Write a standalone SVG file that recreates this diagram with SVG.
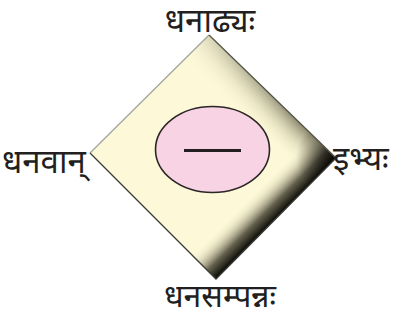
<svg xmlns="http://www.w3.org/2000/svg" width="393" height="321" viewBox="0 0 393 321">
<style>
.lbl{font-family:"Noto Sans Devanagari","Noto Serif Devanagari","Lohit Devanagari","Noto Sans",sans-serif;font-size:33px;fill:#231f20}
</style>
<defs>
<linearGradient id="gTR" gradientUnits="userSpaceOnUse" x1="272.5" y1="96.5" x2="248" y2="122">
<stop offset="0" stop-color="#77735c" stop-opacity="0.85"/>
<stop offset="0.5" stop-color="#b8b494" stop-opacity="0.35"/>
<stop offset="1" stop-color="#fcf8d8" stop-opacity="0"/>
</linearGradient>
<linearGradient id="gBR" gradientUnits="userSpaceOnUse" x1="276" y1="218.5" x2="252" y2="194.5">
<stop offset="0" stop-color="#0b0b06" stop-opacity="1"/>
<stop offset="0.35" stop-color="#3e3b2c" stop-opacity="0.8"/>
<stop offset="0.7" stop-color="#a9a587" stop-opacity="0.35"/>
<stop offset="1" stop-color="#fcf8d8" stop-opacity="0"/>
</linearGradient>
<linearGradient id="gFade" gradientUnits="userSpaceOnUse" x1="209" y1="35" x2="300" y2="122">
<stop offset="0" stop-color="#fcf8d8" stop-opacity="0.7"/>
<stop offset="1" stop-color="#fcf8d8" stop-opacity="0"/>
</linearGradient>
<radialGradient id="gCorner" gradientUnits="userSpaceOnUse" cx="336" cy="158" r="40">
<stop offset="0" stop-color="#000" stop-opacity="0.6"/>
<stop offset="1" stop-color="#000" stop-opacity="0"/>
</radialGradient>
</defs>
<g id="diamond">
<polygon points="209,35 336,158 216,279 90,153" fill="#fcf8d8"/>
<polygon points="209,35 336,158 216,279 90,153" fill="url(#gTR)"/>
<polygon points="209,35 336,158 216,279 90,153" fill="url(#gFade)"/>
<polygon points="209,35 336,158 216,279 90,153" fill="url(#gBR)"/>
<polygon points="209,35 336,158 216,279 90,153" fill="url(#gCorner)"/>
<polyline points="90,153 209,35" fill="none" stroke="#a5a5a0" stroke-width="1.3"/>
<polyline points="209,35 336,158" fill="none" stroke="#555548" stroke-width="1.3"/>
<polyline points="336,158 216,279 90,153" fill="none" stroke="#3c3c36" stroke-width="1.3"/>
</g>
<g id="center">
<ellipse cx="212.5" cy="149.5" rx="57" ry="43" fill="#f8d3e4" stroke="#2a2626" stroke-width="1.6"/>
<line x1="184" y1="150.5" x2="241" y2="150.5" stroke="#231f20" stroke-width="3"/>
</g>
<g id="top"><text class="lbl" x="210" y="32" text-anchor="middle">धनाढ्यः</text></g>
<g id="left"><text class="lbl" x="2" y="173">धनवान्</text></g>
<g id="right"><text class="lbl" x="333" y="170">इभ्यः</text></g>
<g id="bottom"><text class="lbl" x="220" y="307" text-anchor="middle" style="font-size:32px">धनसम्पन्नः</text></g>
</svg>
